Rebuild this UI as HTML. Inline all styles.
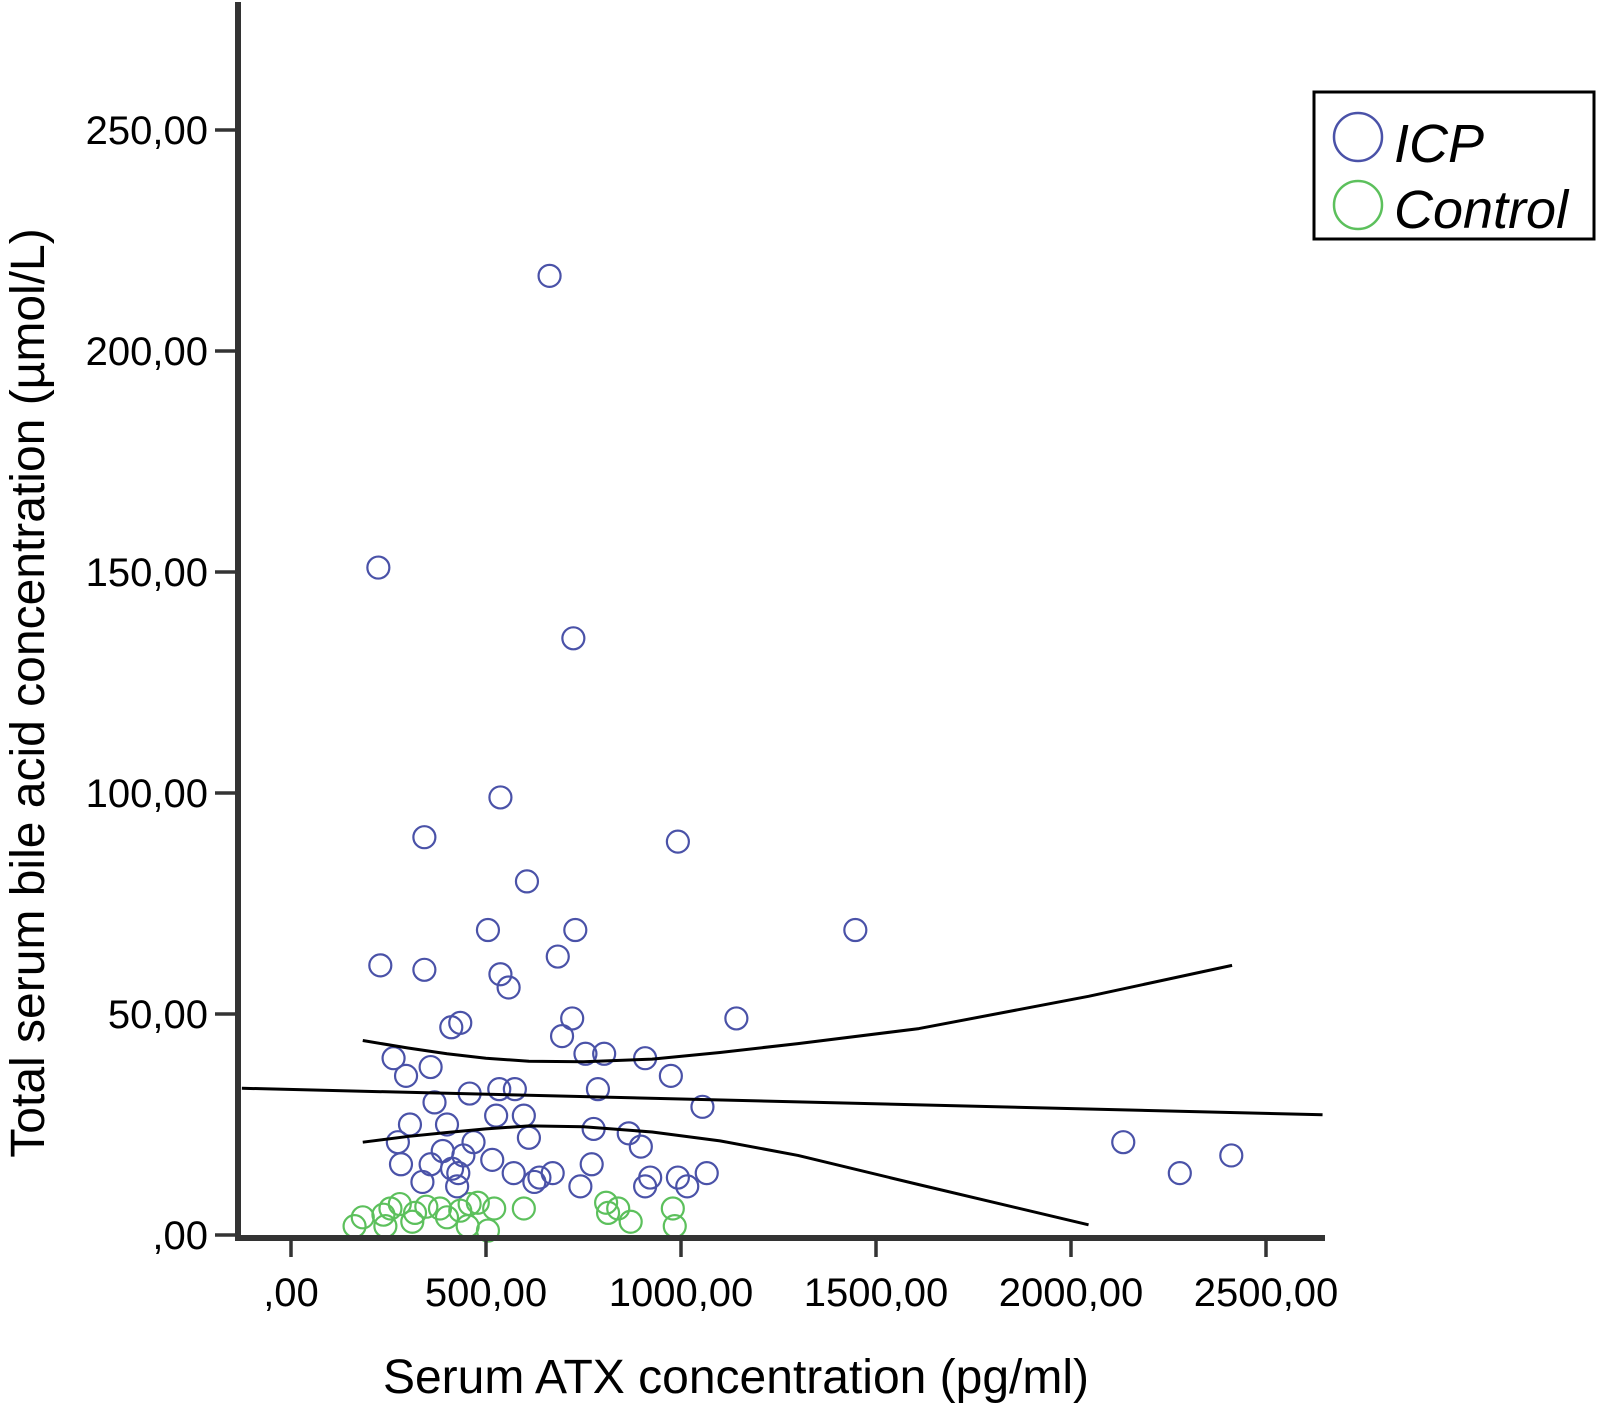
<!DOCTYPE html>
<html><head><meta charset="utf-8"><style>
html,body{margin:0;padding:0;background:#fff}
svg{display:block;font-family:"Liberation Sans",Arial,sans-serif}
</style></head><body>
<svg id="chart" width="1597" height="1403" viewBox="0 0 1597 1403" xmlns="http://www.w3.org/2000/svg">
<g id="marks"></g>
<g id="axes"></g>
<text transform="translate(44,693) rotate(-90)" text-anchor="middle" font-size="48">Total serum bile acid concentration (µmol/L)</text>
<text x="736" y="1393" text-anchor="middle" font-size="48">Serum ATX concentration (pg/ml)</text>
<g>
<rect x="1314" y="92" width="280" height="147" fill="#fff" stroke="#000" stroke-width="3"/>
<circle cx="1358" cy="137" r="24" fill="none" stroke="#4a52a8" stroke-width="2.5"/>
<text x="1394" y="162" font-size="54" font-style="italic">ICP</text>
<circle cx="1358" cy="205" r="24" fill="none" stroke="#5cc05c" stroke-width="2.5"/>
<text x="1394" y="228" font-size="54" font-style="italic">Control</text>
</g>
</svg>
<script>
const icpX=[663,224,724,537,342,992,605,505,729,1447,684,229,342,537,558,1142,721,434,411,695,263,755,803,908,358,295,974,534,574,787,458,368,1055,526,597,305,400,776,866,274,468,610,2134,897,389,442,2411,282,358,413,516,771,429,571,671,921,992,1066,2279,337,426,624,742,908,1016,637];
const icpY=[217,151,135,99,90,89,80,69,69,69,63,61,60,59,56,49,49,48,47,45,40,41,41,40,38,36,36,33,33,33,32,30,29,27,27,25,25,24,23,21,21,22,21,20,19,18,18,16,16,15,17,16,14,14,14,13,13,14,14,12,11,12,11,11,11,13];
const ctlX=[184,237,255,279,311,242,382,400,434,458,479,521,597,318,347,453,808,839,813,871,979,984,505,163];
const ctlY=[4,4.6,6,7,3,2,6,4,5.5,7,7.3,6,6,5,6.4,2,7.3,6,5,3,6,2,1,2];
const fitX=[-126,2645];
const fitY=[33.2,27.2];
const ciX=[184,300,400,500,610,750,926,1100,1300,1610,2045,2413];
const ciUpper=[44,42.3,41,40,39.3,39.2,39.8,41.3,43.3,46.7,54,61];
const ciLower=[21,22.3,23.2,24,24.7,24.5,23.3,21.3,18,11.4,2.3,null];
const xTicks=[0,500,1000,1500,2000,2500];
const xTickLabels=[",00","500,00","1000,00","1500,00","2000,00","2500,00"];
const yTicks=[0,50,100,150,200,250];
const yTickLabels=[",00","50,00","100,00","150,00","200,00","250,00"];

const NS="http://www.w3.org/2000/svg";
const X=v=>291+0.39*v;
const Y=v=>1235-4.42*v;
const marks=document.getElementById('marks');
const axes=document.getElementById('axes');
function mk(tag,attrs,parent){const e=document.createElementNS(NS,tag);for(const k in attrs)e.setAttribute(k,attrs[k]);parent.appendChild(e);return e;}

ctlX.forEach((v,i)=>{
  const c=mk('circle',{cx:X(v),cy:Y(ctlY[i]),r:11,fill:'none',stroke:'#5cc05c','stroke-width':2.2},marks);
  
  
});
icpX.forEach((v,i)=>{
  const c=mk('circle',{cx:X(v),cy:Y(icpY[i]),r:11,fill:'none',stroke:'#4a52a8','stroke-width':2.2},marks);
  
  
});
const fit=mk('line',{x1:X(fitX[0]),y1:Y(fitY[0]),x2:X(fitX[1]),y2:Y(fitY[1]),stroke:'#000','stroke-width':3},marks);


function curve(ys,name){
  let d='';ys.forEach((y,i)=>{if(y===null)return;d+=(d?' L':'M')+X(ciX[i])+' '+Y(y);});
  const p=mk('path',{d:d,fill:'none',stroke:'#000','stroke-width':3,'stroke-linejoin':'round'},marks);
  
  
}
curve(ciUpper,'ci-upper');
curve(ciLower,'ci-lower');

const ya=mk('line',{x1:238,y1:2,x2:238,y2:1241,stroke:'#333','stroke-width':6},axes);


const xa=mk('line',{x1:235,y1:1238,x2:1325,y2:1238,stroke:'#333','stroke-width':6},axes);


xTicks.forEach((v,i)=>{
  const t=mk('line',{x1:X(v),y1:1238,x2:X(v),y2:1257,stroke:'#333','stroke-width':3.5},axes);
  
  
  const l=mk('text',{x:X(v),y:1306,'text-anchor':'middle','font-size':40},axes);
  l.textContent=xTickLabels[i];
  
  
});
yTicks.forEach((v,i)=>{
  const t=mk('line',{x1:215,y1:Y(v),x2:238,y2:Y(v),stroke:'#333','stroke-width':3.5},axes);
  
  
  const l=mk('text',{x:208,y:Y(v)+14,'text-anchor':'end','font-size':40},axes);
  l.textContent=yTickLabels[i];
  
  
});
</script>
</body></html>
